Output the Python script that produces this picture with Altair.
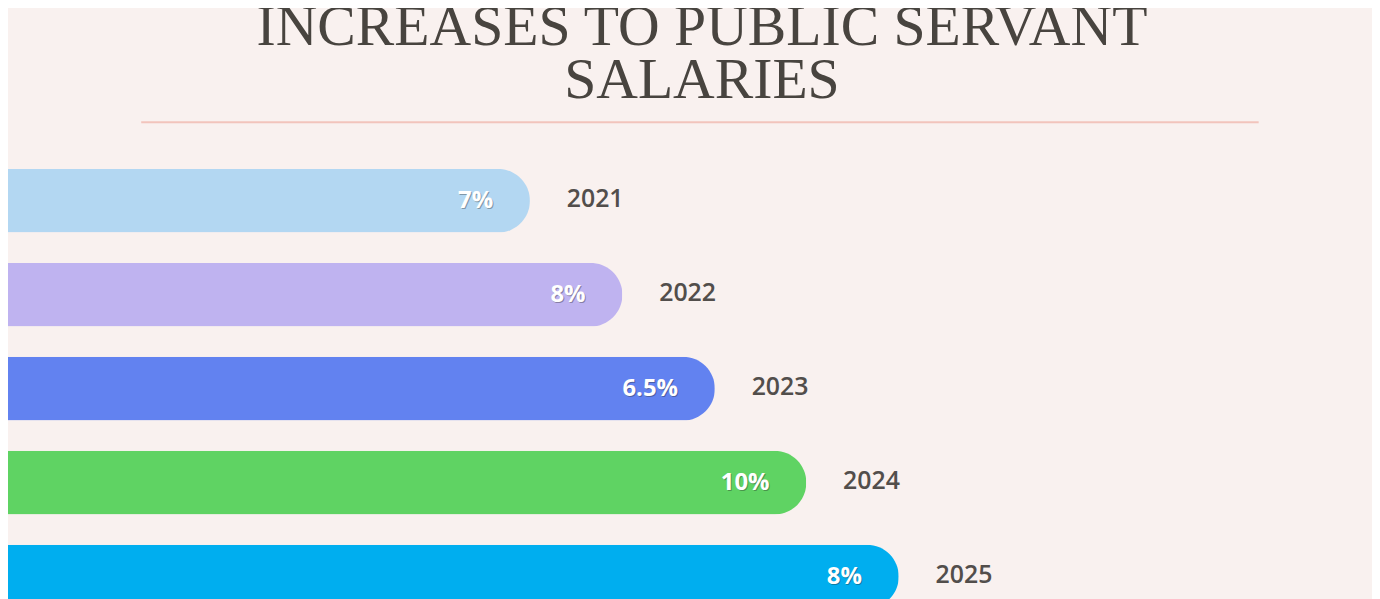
import altair as alt
import pandas as pd

years = ["2021", "2022", "2023", "2024", "2025"]
increase_labels = ["7%", "8%", "6.5%", "10%", "8%"]
bar_lengths = [525, 618, 711, 803, 896]
bar_colors = ["#b3d7f2", "#bfb3f0", "#6282f0", "#5fd363", "#00aeef"]
title_lines = ["INCREASES TO PUBLIC SERVANT", "SALARIES"]

df = pd.DataFrame({"year": years, "label": increase_labels, "length": bar_lengths})

W, H = 1372, 536
x = alt.X("length:Q", scale=alt.Scale(domain=[0, W], nice=False, zero=True), axis=None)
y = alt.Y("year:N", sort=years,
          scale=alt.Scale(paddingInner=0.323, paddingOuter=0.497), axis=None)

base = alt.Chart(df)

bars = base.mark_bar(cornerRadiusEnd=32).encode(
    x=x, y=y,
    color=alt.Color("year:N", scale=alt.Scale(domain=years, range=bar_colors), legend=None),
)

shadow = base.mark_text(align="right", dx=-36, dy=1.5, font="Open Sans", fontSize=24,
                        fontWeight="bold", color="#222222", opacity=0.35).encode(
    x=x, y=y, text="label:N")
pct = base.mark_text(align="right", dx=-37, font="Open Sans", fontSize=24,
                     fontWeight="bold", color="#ffffff").encode(
    x=x, y=y, text="label:N")
yr = base.mark_text(align="left", dx=37, dy=-2, font="Open Sans", fontSize=25,
                    fontWeight=600, color="#524e4b").encode(
    x=x, y=y, text="year:N")

rule = alt.Chart(pd.DataFrame({"a": [0]})).mark_rule(color="#f2c4bc", strokeWidth=2).encode(
    x=alt.value(134), x2=alt.value(1258), y=alt.value(0))

chart = alt.layer(rule, bars, shadow, pct, yr).properties(
    width=W, height=H,
    title=alt.TitleParams(text=title_lines, font="Liberation Serif", fontSize=58,
                          fontWeight="normal", color="#48443f", lineHeight=54,
                          anchor="middle", baseline="bottom", offset=-47, dx=12),
    padding={"left": 0, "top": 113, "right": 0, "bottom": 0},
    autosize=alt.AutoSizeParams(type="none"),
    background="#f9f1ef",
).configure_view(stroke=None)

chart.save("out.html", embed_options={"renderer": "svg", "actions": False})
